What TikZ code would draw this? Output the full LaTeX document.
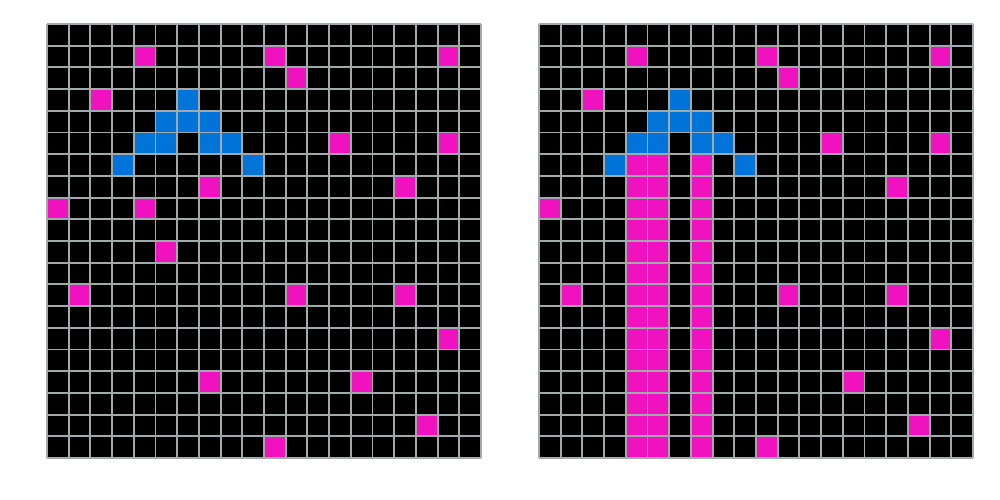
\documentclass[tikz,border=0pt]{standalone}
\usepackage{tikz}

\definecolor{cellmag}{HTML}{F012BE}
\definecolor{cellblue}{HTML}{0074D9}
\definecolor{gridgray}{HTML}{A0AAAA}

\tikzset{
  board/.style={fill=black},
  magcell/.style={fill=cellmag},
  bluecell/.style={fill=cellblue},
  gridlines/.style={draw=gridgray, line width=1.1pt}
}

% column/row of the coloured cells
\def\magcells{4/1,10/1,18/1,11/2,2/3,13/5,18/5,7/7,16/7,0/8,4/8,5/10,1/12,11/12,16/12,18/14,7/16,14/16,17/18,10/19}
\def\bluecells{6/3,5/4,6/4,7/4,4/5,5/5,7/5,8/5,3/6,9/6}

\begin{document}
\begin{tikzpicture}
\useasboundingbox (0,0) rectangle (20,10);

% input grid
\begin{scope}[shift={(0.94,9.52)}, x=0.434cm, y=-0.434cm]
  \fill[board] (0,0) rectangle (20,20);
  \foreach \c/\r in \magcells {\fill[magcell] (\c,\r) rectangle ++(1,1);}
  \foreach \c/\r in \bluecells {\fill[bluecell] (\c,\r) rectangle ++(1,1);}
  \foreach \i in {0,...,20} {
    \draw[gridlines] (\i,0) -- (\i,20);
    \draw[gridlines] (0,\i) -- (20,\i);
  }
\end{scope}

% output grid
\begin{scope}[shift={(10.78,9.52)}, x=0.434cm, y=-0.434cm]
  \fill[board] (0,0) rectangle (20,20);
  \foreach \c/\r in \magcells {\fill[magcell] (\c,\r) rectangle ++(1,1);}
  \foreach \c/\r in \bluecells {\fill[bluecell] (\c,\r) rectangle ++(1,1);}
  \foreach \c in {4,5,7} {\fill[magcell] (\c,6) rectangle (\c+1,20);}
  \foreach \i in {0,...,20} {
    \draw[gridlines] (\i,0) -- (\i,20);
    \draw[gridlines] (0,\i) -- (20,\i);
  }
\end{scope}
\end{tikzpicture}
\end{document}
